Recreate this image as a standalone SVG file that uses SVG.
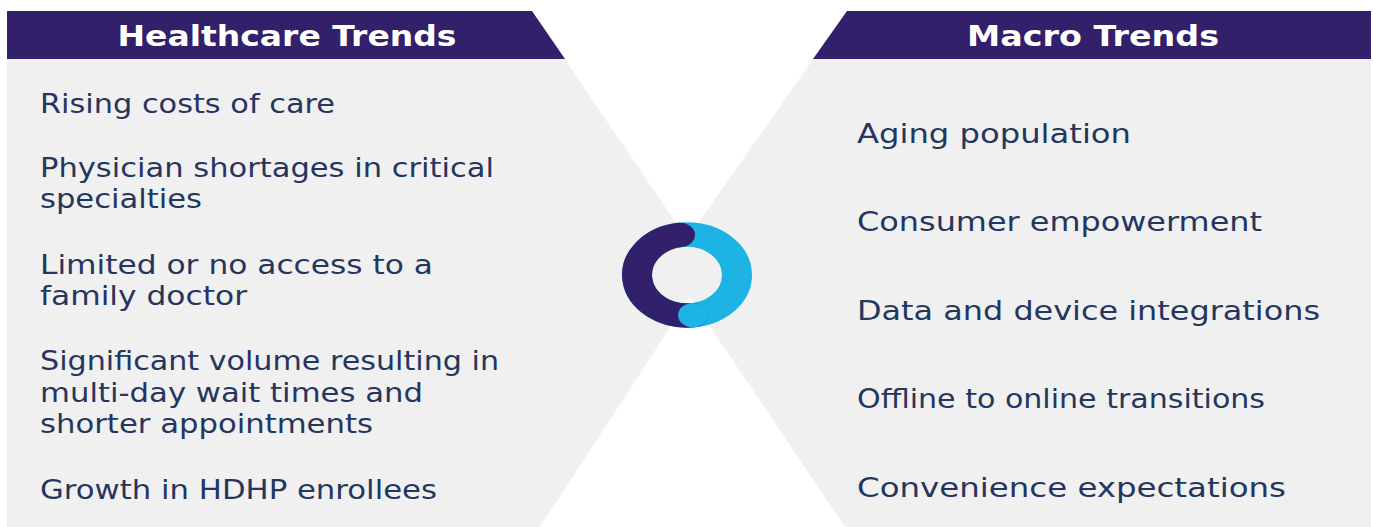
<svg xmlns="http://www.w3.org/2000/svg" width="1373" height="527" viewBox="0 0 1373 527">
  <style>
    .panel { fill: #f0f0f0; }
    .gap { fill: #ffffff; }
    .banner { fill: #33206a; }
    .title { font-family: "DejaVu Sans", "Liberation Sans", sans-serif; font-weight: bold; font-size: 28px; fill: #ffffff; text-anchor: middle; }
    .item { font-family: "DejaVu Sans", "Liberation Sans", sans-serif; font-size: 26px; fill: #25365e; }
  </style>

  <rect width="1373" height="527" fill="#ffffff"/>

  <!-- grey backdrop cut into an X by two white wedges -->
  <g id="backdrop">
    <rect class="panel" x="7" y="11" width="1364" height="516"/>
    <polygon class="gap" points="532,11 847,11 687,239"/>
    <polygon class="gap" points="540,527 845,527 690,297"/>
  </g>

  <!-- left column -->
  <g id="healthcare-trends">
    <polygon class="banner" points="7,11 532,11 565,59 7,59"/>
    <text class="title" x="287" y="46" textLength="339" lengthAdjust="spacingAndGlyphs">Healthcare Trends</text>
    <text class="item" x="40" y="113" textLength="295" lengthAdjust="spacingAndGlyphs">Rising costs of care</text>
    <text class="item" x="40" y="177" textLength="454" lengthAdjust="spacingAndGlyphs">Physician shortages in critical</text>
    <text class="item" x="40" y="208" textLength="162" lengthAdjust="spacingAndGlyphs">specialties</text>
    <text class="item" x="40" y="274" textLength="393" lengthAdjust="spacingAndGlyphs">Limited or no access to a</text>
    <text class="item" x="40" y="305" textLength="207" lengthAdjust="spacingAndGlyphs">family doctor</text>
    <text class="item" x="40" y="370" textLength="459" lengthAdjust="spacingAndGlyphs">Significant volume resulting in</text>
    <text class="item" x="40" y="402" textLength="383" lengthAdjust="spacingAndGlyphs">multi-day wait times and</text>
    <text class="item" x="40" y="433" textLength="333" lengthAdjust="spacingAndGlyphs">shorter appointments</text>
    <text class="item" x="40" y="499" textLength="397" lengthAdjust="spacingAndGlyphs">Growth in HDHP enrollees</text>
  </g>

  <!-- right column -->
  <g id="macro-trends">
    <polygon class="banner" points="847,11 1371,11 1371,59 813,59"/>
    <text class="title" x="1093" y="46" textLength="252" lengthAdjust="spacingAndGlyphs">Macro Trends</text>
    <text class="item" x="857" y="143" textLength="274" lengthAdjust="spacingAndGlyphs">Aging population</text>
    <text class="item" x="857" y="231" textLength="405" lengthAdjust="spacingAndGlyphs">Consumer empowerment</text>
    <text class="item" x="857" y="320" textLength="463" lengthAdjust="spacingAndGlyphs">Data and device integrations</text>
    <text class="item" x="857" y="408" textLength="408" lengthAdjust="spacingAndGlyphs">Offline to online transitions</text>
    <text class="item" x="857" y="497" textLength="429" lengthAdjust="spacingAndGlyphs">Convenience expectations</text>
  </g>

  <!-- two-tone ring in the middle -->
  <g id="ring" transform="translate(687,275) scale(1,0.81)">
    <circle cx="0" cy="0" r="50" fill="none" stroke="#1db4e5" stroke-width="30"/>
    <path d="M 6.09 49.63 A 50 50 0 0 1 -6.96 -49.51" fill="none" stroke="#33206a" stroke-width="30" stroke-linecap="round"/>
    <circle cx="6.09" cy="49.63" r="15" fill="#1db4e5"/>
  </g>
</svg>
